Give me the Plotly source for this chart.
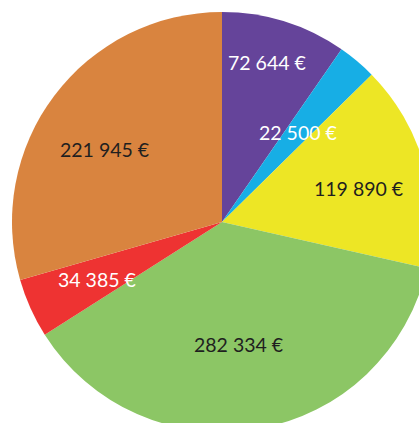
import math
import plotly.graph_objects as go

labels = ["A", "B", "C", "D", "E", "F"]
values = [72644, 22500, 119890, 282334, 34385, 221945]
text_labels = ["72 644 €", "22 500 €", "119 890 €", "282 334 €", "34 385 €", "221 945 €"]

colors = ["#65449A", "#17AEE5", "#EDE625", "#8CC665", "#EE3332", "#D9843F"]
text_colors = ["white", "white", "#1f1f1f", "#1f1f1f", "white", "#1f1f1f"]
label_radius = [0.79, 0.56, 0.67, 0.59, 0.654, 0.658]
label_angle_shift = [-1.6, 0.1, 2.1, 2.2, -0.3, -5.3]

fig = go.Figure(go.Pie(
    labels=labels, values=values, sort=False, direction="clockwise", rotation=0,
    marker=dict(colors=colors, line=dict(width=0)),
    textinfo="none", hoverinfo="none", showlegend=False,
    domain=dict(x=[0, 1], y=[0, 1]),
))

total = sum(values)
cum = 0
annotations = []
for v, t, c, f, s in zip(values, text_labels, text_colors, label_radius, label_angle_shift):
    mid = (cum + v / 2) / total * 2 * math.pi + math.radians(s)
    cum += v
    annotations.append(dict(
        x=0.5 + 0.5 * f * math.sin(mid), y=0.5 + 0.5 * f * math.cos(mid),
        xref="paper", yref="paper", text=t, showarrow=False,
        font=dict(family="Lato", size=19.5, color=c),
        xanchor="center", yanchor="middle",
    ))

fig.update_layout(
    width=444, height=444,
    margin=dict(l=12, r=12, t=12, b=12),
    paper_bgcolor="white", plot_bgcolor="white",
    annotations=annotations,
)

fig.write_html(
    "out.html",
    config={"displayModeBar": False},
    post_script="document.body.style.margin='0';document.body.style.overflow='hidden';document.documentElement.style.overflow='hidden';",
)
